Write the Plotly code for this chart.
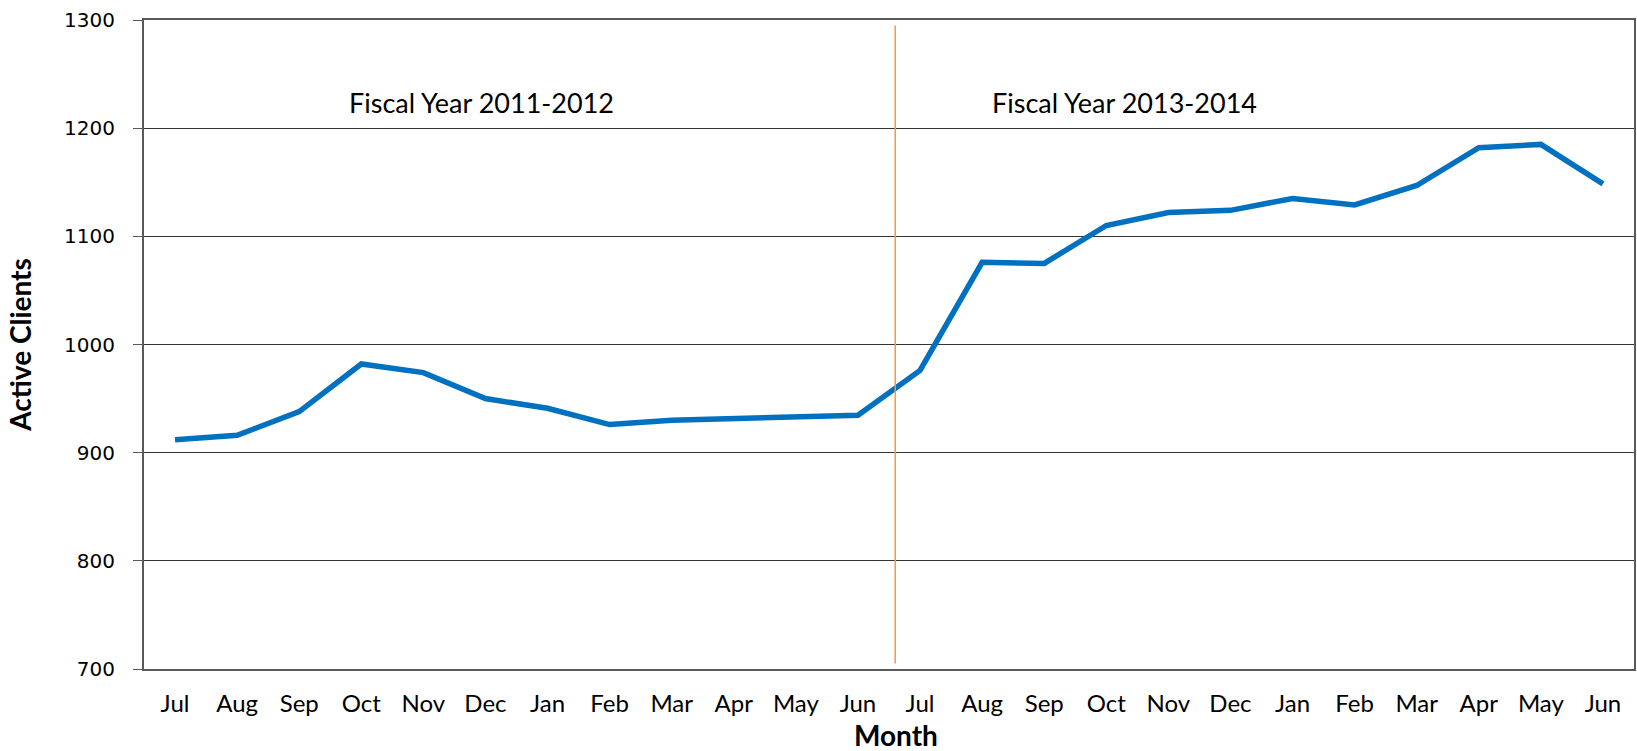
import plotly.graph_objects as go

months = ["Jul", "Aug", "Sep", "Oct", "Nov", "Dec", "Jan", "Feb", "Mar", "Apr", "May", "Jun",
          "Jul", "Aug", "Sep", "Oct", "Nov", "Dec", "Jan", "Feb", "Mar", "Apr", "May", "Jun"]
active_clients = [912, 916, 938, 982, 974, 950, 941, 926, 930, 931.5, 932.5, 934.5,
                  976, 1076, 1075, 1110, 1122, 1124, 1135, 1129, 1147, 1182, 1185, 1148.5]
y_ticks = [700, 800, 900, 1000, 1100, 1200, 1300]
fiscal_labels = ["Fiscal Year 2011-2012", "Fiscal Year 2013-2014"]
fiscal_label_x = [4.93, 15.3]
fiscal_label_y = 1224
divider_x = 11.6
divider_y = [705, 1295]

x_idx = list(range(len(months)))
FONT = "Lato, Open Sans, sans-serif"

fig = go.Figure()
fig.add_trace(go.Scatter(
    x=x_idx, y=active_clients, mode="lines",
    line=dict(color="#0070C0", width=5.5),
    showlegend=False, hoverinfo="skip",
))

fig.add_shape(type="line", xref="x", yref="y",
              x0=divider_x, x1=divider_x, y0=divider_y[0], y1=divider_y[1],
              line=dict(color="#F79646", width=1.5))

for txt, xx in zip(fiscal_labels, fiscal_label_x):
    fig.add_annotation(x=xx, y=fiscal_label_y, xref="x", yref="y", text=txt,
                       showarrow=False, font=dict(family=FONT, size=27, color="#000"))

# x-axis title placed as an annotation so it can sit near the bottom edge
fig.add_annotation(x=0.5047, y=-0.1015, xref="paper", yref="paper", text="<b>Month</b>",
                   showarrow=False, xanchor="center", yanchor="middle",
                   font=dict(family=FONT, size=28, color="#000"))

fig.update_xaxes(
    range=[-0.5, len(months) - 0.5], automargin=False,
    tickmode="array", tickvals=x_idx, ticktext=months,
    showgrid=False, zeroline=False,
    showline=True, linecolor="#595959", linewidth=2, mirror=True,
    ticks="", ticklabelstandoff=12,
    tickfont=dict(family=FONT, size=24, color="#000"),
)
fig.update_yaxes(
    range=[700, 1300], tickmode="array", tickvals=y_ticks, automargin=False,
    showgrid=True, gridcolor="#333333", gridwidth=1, zeroline=False,
    showline=True, linecolor="#595959", linewidth=2, mirror=True,
    ticks="outside", ticklen=9, tickcolor="#595959", tickwidth=1,
    ticklabelstandoff=14,
    tickfont=dict(family="DejaVu Sans, sans-serif", size=20, color="#000"),
    title=dict(text="<b>Active Clients</b>", font=dict(family=FONT, size=28, color="#000"),
               standoff=24),
)

fig.update_layout(
    width=1637, height=751,
    margin=dict(l=144, r=3, t=20, b=82),
    paper_bgcolor="white", plot_bgcolor="white",
)

fig.write_html("out.html", config={"displayModeBar": False},
               post_script="document.body.style.margin='0';")
